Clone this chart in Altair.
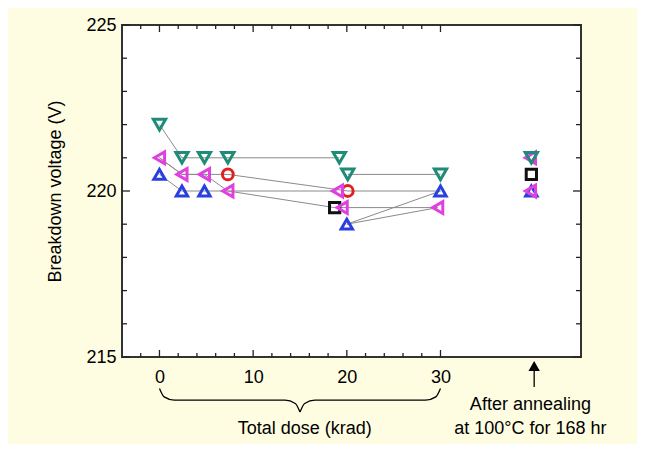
import altair as alt
import pandas as pd

# ---------------- data ----------------
# markers (dose in krad, breakdown voltage in V); 39.7 = after annealing
teal_x = [0, 2.4, 4.8, 7.3, 19.2, 20.1, 30.0, 39.7]
teal_y = [222, 221, 221, 221, 221, 220.5, 220.5, 221]
magenta_x = [39.6, 0, 2.4, 4.8, 7.3, 19.0, 19.5, 29.7, 39.6]
magenta_y = [221, 221, 220.5, 220.5, 220, 220, 219.5, 219.5, 220]
red_x = [7.3, 20.1]
red_y = [220.5, 220]
blue_x = [0, 2.4, 4.8, 20.0, 30.0, 39.7]
blue_y = [220.5, 220, 220, 219, 220, 220]
black_x = [18.7, 39.7]
black_y = [219.5, 220.5]

# connecting gray lines
traces_x = [
    [0, 2.4, 4.8, 7.3, 19.2],
    [20.1, 30.0],
    [0, 2.4, 4.8, 7.3, 20.1, 30.0],
    [0, 2.4, 4.8, 7.3, 19.0],
    [7.3, 18.7, 29.7],
    [0, 2.4, 4.8, 7.3],
    [20.0, 30.0],
    [20.0, 29.7],
]
traces_y = [
    [222, 221, 221, 221, 221],
    [220.5, 220.5],
    [221, 220.5, 220.5, 220.5, 220, 220],
    [221, 220.5, 220.5, 220, 220],
    [220, 219.5, 219.5],
    [220.5, 220, 220, 220],
    [219, 220],
    [219, 219.5],
]

x_labels = [0, 10, 20, 30]
x_minor = [-2, 2, 4, 6, 8, 12, 14, 16, 18, 22, 24, 26, 28]
y_labels = [215, 220, 225]
y_minor = [216, 217, 218, 219, 221, 222, 223, 224]

anneal_x = 40
anneal_text_x = 39.6
dose_title_x = 15.5

# brace under the dose labels (left half, right half)
brace_left_x = [0, 0.5, 1.6, 13.4, 14.5, 15]
brace_left_y = [214.05, 213.8, 213.7, 213.7, 213.6, 213.34]
brace_right_x = [15, 15.5, 16.6, 28.4, 29.5, 30]
brace_right_y = [213.34, 213.6, 213.7, 213.7, 213.8, 214.05]

# ---------------- tables ----------------
kinds = ["black", "red", "blue", "magenta", "teal"]
kind_shapes = ["square", "circle", "triangle-up", "triangle-left", "triangle-down"]
kind_colors = ["#111111", "#e02020", "#2a3fe0", "#e040e0", "#1f8c78"]
kind_sizes = [105, 150, 360, 330, 370]

rows = []
for k, xs_, ys_ in [("black", black_x, black_y), ("red", red_x, red_y),
                    ("blue", blue_x, blue_y), ("magenta", magenta_x, magenta_y),
                    ("teal", teal_x, teal_y)]:
    for xv, yv in zip(xs_, ys_):
        rows.append({"x": xv, "y": yv, "kind": k})
markers = pd.DataFrame(rows)

lrows = []
for i, (xs_, ys_) in enumerate(zip(traces_x, traces_y)):
    for j, (xv, yv) in enumerate(zip(xs_, ys_)):
        lrows.append({"x": xv, "y": yv, "trace": i, "o": j})
lines = pd.DataFrame(lrows)

brows = []
for side, xs_, ys_ in [("l", brace_left_x, brace_left_y), ("r", brace_right_x, brace_right_y)]:
    for j, (xv, yv) in enumerate(zip(xs_, ys_)):
        brows.append({"x": xv, "y": yv, "side": side, "o": j})
brace = pd.DataFrame(brows)

W, H = 459, 332
FONT = "Liberation Sans"
FS = 18

xs = alt.Scale(domain=[-4, 45], nice=False, zero=False)
ys = alt.Scale(domain=[215, 225], nice=False, zero=False)
x_axis = alt.Axis(values=x_labels, format="d", ticks=False, domain=False, grid=False,
                  labelFontSize=FS, labelPadding=11, labelColor="black", labelFont=FONT)
y_axis = alt.Axis(values=y_labels, format="d", ticks=False, domain=False, grid=False,
                  labelFontSize=FS, labelPadding=6, labelColor="black", labelFont=FONT,
                  titleFontSize=FS, titleFontWeight="normal", titleFont=FONT,
                  titleColor="black", titleX=-67, titleY=H / 2, titleAngle=270,
                  titleAlign="center", titleBaseline="middle")
X = alt.X("x:Q", scale=xs, axis=x_axis, title=None)
Y = alt.Y("y:Q", scale=ys, axis=y_axis, title="Breakdown voltage (V)")

line_layer = alt.Chart(lines).mark_line(color="#8a8a8a", strokeWidth=1).encode(
    x=X, y=Y, detail="trace:N", order="o:Q")

point_layer = alt.Chart(markers).mark_point(filled=False, strokeWidth=3, opacity=1).encode(
    x=X, y=Y,
    shape=alt.Shape("kind:N", scale=alt.Scale(domain=kinds, range=kind_shapes), legend=None),
    color=alt.Color("kind:N", scale=alt.Scale(domain=kinds, range=kind_colors), legend=None),
    size=alt.Size("kind:N", scale=alt.Scale(domain=kinds, range=kind_sizes), legend=None),
)

def xticks(vals, top, length):
    df = pd.DataFrame({"x": vals})
    if top:
        return alt.Chart(df).mark_rule(color="#222", strokeWidth=1.3).encode(
            x=X, y=alt.value(0), y2=alt.value(length))
    return alt.Chart(df).mark_rule(color="#222", strokeWidth=1.3).encode(
        x=X, y=alt.value(H), y2=alt.value(H - length))

def yticks(vals, right, length):
    df = pd.DataFrame({"y": vals})
    if right:
        return alt.Chart(df).mark_rule(color="#222", strokeWidth=1.3).encode(
            y=Y, x=alt.value(W), x2=alt.value(W - length))
    return alt.Chart(df).mark_rule(color="#222", strokeWidth=1.3).encode(
        y=Y, x=alt.value(0), x2=alt.value(length))

tick_layers = [
    xticks(x_labels, False, 7), xticks(x_minor, False, 4),
    xticks(x_labels, True, 7), xticks(x_minor, True, 4),
    yticks(y_labels, False, 8), yticks(y_minor, False, 5),
    yticks(y_labels, True, 8), yticks(y_minor, True, 5),
]

brace_layer = alt.Chart(brace).mark_line(color="black", strokeWidth=1.3,
                                         interpolate="monotone", clip=False).encode(
    x=X, y=Y, detail="side:N", order="o:Q")

ann = pd.DataFrame({"x": [anneal_x]})
arrow_shaft = alt.Chart(ann).mark_rule(color="black", strokeWidth=1.3, clip=False).encode(
    x=X, y=alt.value(H + 13), y2=alt.value(H + 30))
arrow_head = alt.Chart(ann).mark_point(shape="triangle-up", filled=True, color="black",
                                       size=130, opacity=1, clip=False).encode(
    x=X, y=alt.value(H + 9))

txt_dose = alt.Chart(pd.DataFrame({"x": [dose_title_x], "t": ["Total dose (krad)"]})).mark_text(
    fontSize=FS, font=FONT, color="black", baseline="middle", align="center", clip=False
).encode(x=X, y=alt.value(H + 72), text="t:N")

txt_ann1 = alt.Chart(pd.DataFrame({"x": [anneal_text_x], "t": ["After annealing"]})).mark_text(
    fontSize=FS, font=FONT, color="black", baseline="middle", align="center", clip=False
).encode(x=X, y=alt.value(H + 48), text="t:N")
txt_ann2 = alt.Chart(pd.DataFrame({"x": [anneal_text_x], "t": ["at 100°C for 168 hr"]})).mark_text(
    fontSize=FS, font=FONT, color="black", baseline="middle", align="center", clip=False
).encode(x=X, y=alt.value(H + 72), text="t:N")

chart = alt.layer(
    line_layer, point_layer, *tick_layers, brace_layer, arrow_shaft, arrow_head,
    txt_dose, txt_ann1, txt_ann2
).properties(
    width=W, height=H,
    background="#FFFDE1",
    padding={"left": 114, "top": 17, "right": 56, "bottom": 87},
    autosize=alt.AutoSizeParams(type="none"),
).configure_view(
    stroke="#333333", strokeWidth=2, fill="white"
)

chart.save("out.html", embed_options={"renderer": "svg", "actions": False})
